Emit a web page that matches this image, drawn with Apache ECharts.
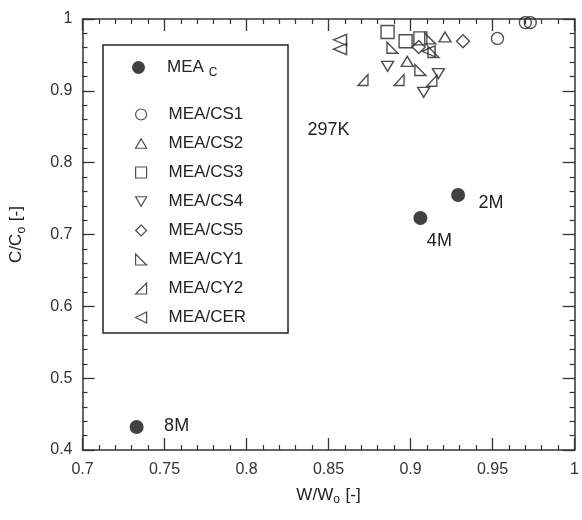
<!DOCTYPE html>
<html>
<head>
<meta charset="utf-8">
<script src="https://cdn.jsdelivr.net/npm/echarts@6/dist/echarts.min.js"></script>
<style>
  html, body { margin: 0; padding: 0; background: #fff; }
  #chart { width: 582px; height: 520px; }
</style>
</head>
<body>
<div id="chart"></div>
<script>
// Axis ranges and ticks
const xTicks = [0.7, 0.75, 0.8, 0.85, 0.9, 0.95, 1];
const yTicks = [0.4, 0.5, 0.6, 0.7, 0.8, 0.9, 1];

// MEA_C runs (filled circles) with their concentration tags
const meaC_W = [0.733, 0.906, 0.929];
const meaC_C = [0.432, 0.723, 0.755];
const meaC_tags = ['8M', '4M', '2M'];

// Blended solvents at 297 K
const cs1_W = [0.970, 0.973, 0.953];
const cs1_C = [0.995, 0.995, 0.973];
const cs2_W = [0.921, 0.898];
const cs2_C = [0.975, 0.941];
const cs3_W = [0.886, 0.897, 0.906];
const cs3_C = [0.982, 0.969, 0.973];
const cs4_W = [0.886, 0.908, 0.917];
const cs4_C = [0.934, 0.898, 0.924];
const cs5_W = [0.932, 0.905];
const cs5_C = [0.969, 0.961];
const cy1_W = [0.889, 0.906, 0.912, 0.914];
const cy1_C = [0.960, 0.929, 0.973, 0.954];
const cy2_W = [0.871, 0.893, 0.913];
const cy2_C = [0.915, 0.915, 0.914];
const cer_W = [0.857, 0.857, 0.911];
const cer_C = [0.971, 0.958, 0.955];

const tempTag = '297K';
const tempTag_W = 0.85;
const tempTag_C = 0.845;

// ---- styling ----
const FONT = 'Liberation Sans, Arial, Helvetica, sans-serif';
const INK = '#222';
const AXIS = '#333';
const tagOffsets = [[40, -1], [19, 23], [33, 8]];

const SYM = {
  up: 'path://M5,0 L10,8.66 L0,8.66 Z',
  down: 'path://M0,0 L10,0 L5,8.66 Z',
  cy1: 'path://M0,0 L0,10 L10,10 Z',
  cy2: 'path://M10,0 L10,10 L0,10 Z',
  cer: 'path://M0,5 L10,0 L10,10 Z'
};

const hollow = { color: 'rgba(255,255,255,0)', borderColor: INK, borderWidth: 1.4 };

function pairs(xs, ys) { return xs.map((x, i) => [x, ys[i]]); }

function hollowSeries(name, xs, ys, symbol, size) {
  return {
    name: name, type: 'scatter', xAxisIndex: 0, yAxisIndex: 0,
    symbol: symbol, symbolSize: size,
    itemStyle: hollow, emphasis: { disabled: true },
    data: pairs(xs, ys), z: 3
  };
}

const fmt = v => String(parseFloat(v.toFixed(2)));

const axisLine = { show: true, onZero: false, lineStyle: { color: AXIS, width: 1.5 } };
const tick = { show: true, inside: true, length: 12, lineStyle: { color: AXIS, width: 1.3 } };
const minor = { show: true, splitNumber: 5, length: 5, lineStyle: { color: AXIS, width: 1.2 } };

const nameRich = {
  n: { fontSize: 17, fontFamily: FONT, color: INK },
  s: { fontSize: 12, fontFamily: FONT, color: INK, padding: [10, 1, 0, 0] }
};

const legendRich = {
  sp: { width: 17 },
  n: { fontSize: 17, fontFamily: FONT, color: INK },
  s: { fontSize: 12, fontFamily: FONT, color: INK, padding: [10, 0, 0, 5] }
};

const chart = echarts.init(document.getElementById('chart'), null, { renderer: 'canvas' });

const option = {
  backgroundColor: '#fff',
  animation: false,
  grid: { left: 82, right: 3, top: 19, bottom: 70, containLabel: false },
  xAxis: [
    {
      type: 'value', position: 'bottom',
      min: xTicks[0], max: xTicks[xTicks.length - 1], interval: 0.05,
      axisLine: axisLine, axisTick: tick, minorTick: minor,
      splitLine: { show: false },
      axisLabel: { fontSize: 16, fontFamily: FONT, color: AXIS, margin: 12, formatter: fmt, showMinLabel: true, showMaxLabel: true },
      name: '{n|W/W}{s|o}{n| [-]}', nameLocation: 'middle', nameGap: 34,
      nameTextStyle: { rich: nameRich }
    },
    {
      type: 'value', position: 'top',
      min: xTicks[0], max: xTicks[xTicks.length - 1], interval: 0.05,
      axisLine: axisLine, axisTick: tick, minorTick: minor,
      splitLine: { show: false }, axisLabel: { show: false }
    }
  ],
  yAxis: [
    {
      type: 'value', position: 'left',
      min: yTicks[0], max: yTicks[yTicks.length - 1], interval: 0.1,
      axisLine: axisLine, axisTick: tick, minorTick: minor,
      splitLine: { show: false },
      axisLabel: { fontSize: 16, fontFamily: FONT, color: AXIS, margin: 10, formatter: fmt, showMinLabel: true, showMaxLabel: true },
      name: '{n|C/C}{s|o}{n| [-]}', nameLocation: 'middle', nameGap: 55,
      nameTextStyle: { rich: nameRich }
    },
    {
      type: 'value', position: 'right',
      min: yTicks[0], max: yTicks[yTicks.length - 1], interval: 0.1,
      axisLine: axisLine, axisTick: tick, minorTick: minor,
      splitLine: { show: false }, axisLabel: { show: false }
    }
  ],
  legend: [
    {
      data: ['MEA_C'], orient: 'vertical', left: 132, top: 59, padding: 0,
      itemWidth: 13, itemHeight: 13,
      itemStyle: { color: '#111', borderWidth: 0 },
      formatter: () => '{sp| }{n|MEA}{s|C}',
      textStyle: { rich: legendRich },
      selectedMode: false
    },
    {
      data: ['MEA/CS1', 'MEA/CS2', 'MEA/CS3', 'MEA/CS4', 'MEA/CS5', 'MEA/CY1', 'MEA/CY2', 'MEA/CER'],
      orient: 'vertical', left: 135, top: 106, padding: 0,
      itemWidth: 11, itemHeight: 11, itemGap: 12,
      itemStyle: { color: 'rgba(255,255,255,0)', borderColor: INK, borderWidth: 1.2 },
      formatter: name => '{sp| }{n|' + name + '}',
      textStyle: { rich: legendRich },
      selectedMode: false
    }
  ],
  series: [
    {
      name: 'MEA_C', type: 'scatter', symbol: 'circle', symbolSize: 14,
      itemStyle: { color: '#111' }, emphasis: { disabled: true }, z: 4,
      data: meaC_W.map((w, i) => ({
        value: [w, meaC_C[i]],
        name: meaC_tags[i],
        label: { offset: tagOffsets[i] }
      })),
      label: {
        show: true, position: 'inside', formatter: p => p.name,
        fontSize: 18, fontFamily: FONT, color: INK,
        textBorderWidth: 0, opacity: 1
      }
    },
    hollowSeries('MEA/CS1', cs1_W, cs1_C, 'circle', 12),
    hollowSeries('MEA/CS2', cs2_W, cs2_C, SYM.up, [12, 10]),
    hollowSeries('MEA/CS3', cs3_W, cs3_C, 'rect', 13),
    hollowSeries('MEA/CS4', cs4_W, cs4_C, SYM.down, [12, 10]),
    hollowSeries('MEA/CS5', cs5_W, cs5_C, 'diamond', 13),
    hollowSeries('MEA/CY1', cy1_W, cy1_C, SYM.cy1, [11, 11]),
    hollowSeries('MEA/CY2', cy2_W, cy2_C, SYM.cy2, [10, 11]),
    hollowSeries('MEA/CER', cer_W, cer_C, SYM.cer, [13, 11])
  ]
};

chart.setOption(option);

// Legend frame and the temperature tag for the blended-solvent cluster
const tagPos = chart.convertToPixel({ gridIndex: 0 }, [tempTag_W, tempTag_C]);
chart.setOption({
  graphic: [
    {
      type: 'rect', shape: { x: 103, y: 45, width: 185, height: 288 },
      style: { fill: 'none', stroke: INK, lineWidth: 1.5 }, z: 10
    },
    {
      type: 'text', x: tagPos[0], y: tagPos[1],
      style: { text: tempTag, fontSize: 18, fontFamily: FONT, fill: INK, align: 'center', verticalAlign: 'middle' },
      z: 10
    }
  ]
});
</script>
</body>
</html>
